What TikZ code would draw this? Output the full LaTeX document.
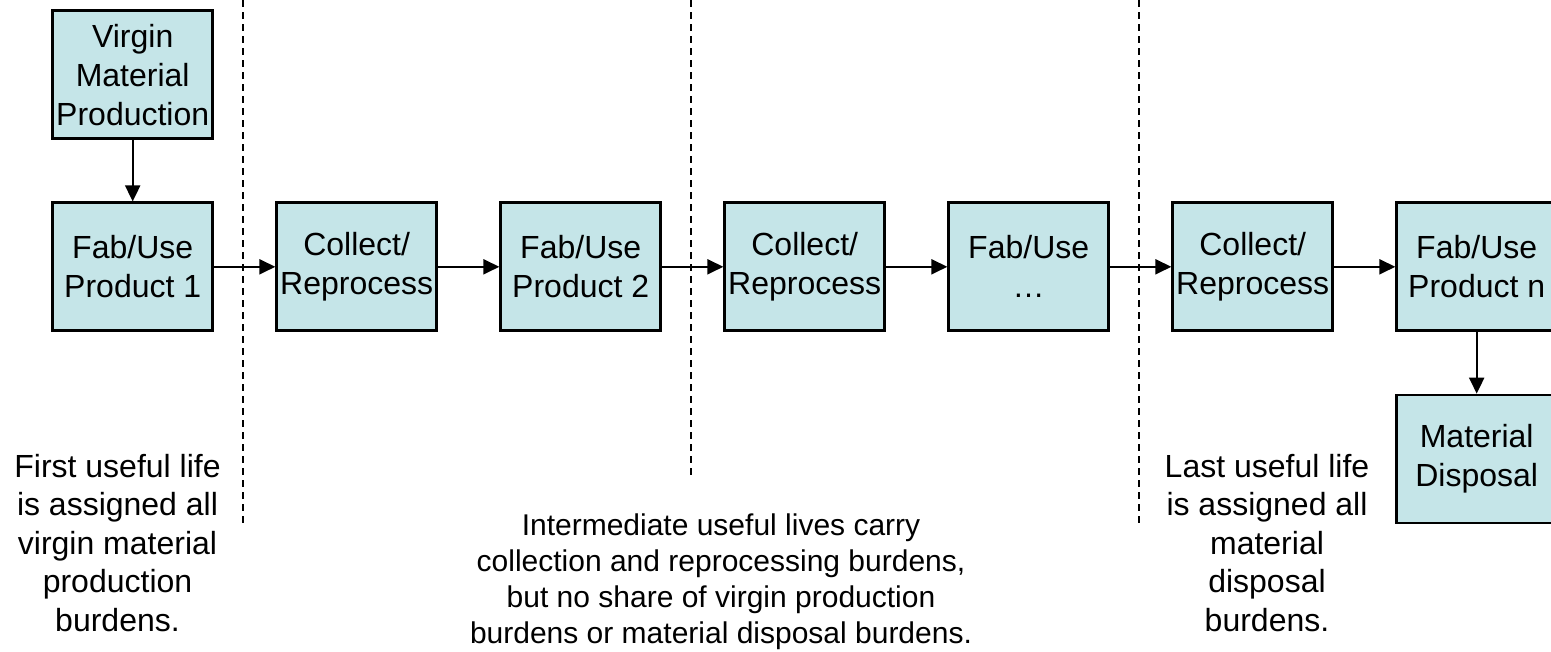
\documentclass[tikz,border=0pt]{standalone}
\usepackage{fontspec}
\setmainfont{Liberation Sans}
\usetikzlibrary{arrows.meta}
\definecolor{boxfill}{RGB}{197,229,232}
\begin{document}
\begin{tikzpicture}[x=1pt,y=-1pt,
  stage/.style={draw=black, line width=2.7pt, fill=boxfill,
    minimum width=160pt, minimum height=128pt, inner sep=0pt,
    align=center, font=\fontsize{32}{39}\selectfont},
  flow/.style={line width=2pt, -{Triangle[length=16pt,width=15pt]}},
  divider/.style={line width=2pt, dash pattern=on 7pt off 5pt},
  note/.style={align=center, inner sep=0pt, anchor=north,
    font=\fontsize{32}{38.5}\selectfont}]
  % page frame
  \fill[white] (0,0) rectangle (1551,651);
  \clip (0,0) rectangle (1551,651);

  % life-cycle boundaries
  \draw[divider] (243,0) -- (243,523);
  \draw[divider] (691,0) -- (691,475);
  \draw[divider] (1139,0) -- (1139,523);

  % process boxes
  \node[stage] (virgin) at (132.7,74.6) {Virgin\\Material\\Production};
  \node[stage] (fab1) at (132.7,266.8) {Fab/Use\\Product 1};
  \node[stage] (col1) at (356.7,266.8) {Collect/\\Reprocess};
  \node[stage] (fab2) at (580.7,266.8) {Fab/Use\\Product 2};
  \node[stage] (col2) at (804.7,266.8) {Collect/\\Reprocess};
  \node[stage] (fabx) at (1028.7,266.8) {Fab/Use\\\dots};
  \node[stage] (col3) at (1252.7,266.8) {Collect/\\Reprocess};
  \node[stage] (fabn) at (1476.7,266.8) {Fab/Use\\Product n};
  \node[stage] (disp) at (1476.7,459) {Material\\Disposal};

  % material flow
  \draw[flow] (virgin) -- (fab1);
  \draw[flow] (fab1) -- (col1);
  \draw[flow] (col1) -- (fab2);
  \draw[flow] (fab2) -- (col2);
  \draw[flow] (col2) -- (fabx);
  \draw[flow] (fabx) -- (col3);
  \draw[flow] (col3) -- (fabn);
  \draw[flow] (fabn) -- (disp);

  % burden allocation notes
  \node[note] (firstnote) at (117.5,454)
    {First useful life\\is assigned all\\virgin material\\production\\burdens.};
  \node[note, font=\fontsize{30}{35.7}\selectfont] (midnote) at (721,514)
    {Intermediate useful lives carry\\collection and reprocessing burdens,\\but no share of virgin production\\burdens or material disposal burdens.};
  \node[note] (lastnote) at (1267,454)
    {Last useful life\\is assigned all\\material\\disposal\\burdens.};
\end{tikzpicture}
\end{document}
